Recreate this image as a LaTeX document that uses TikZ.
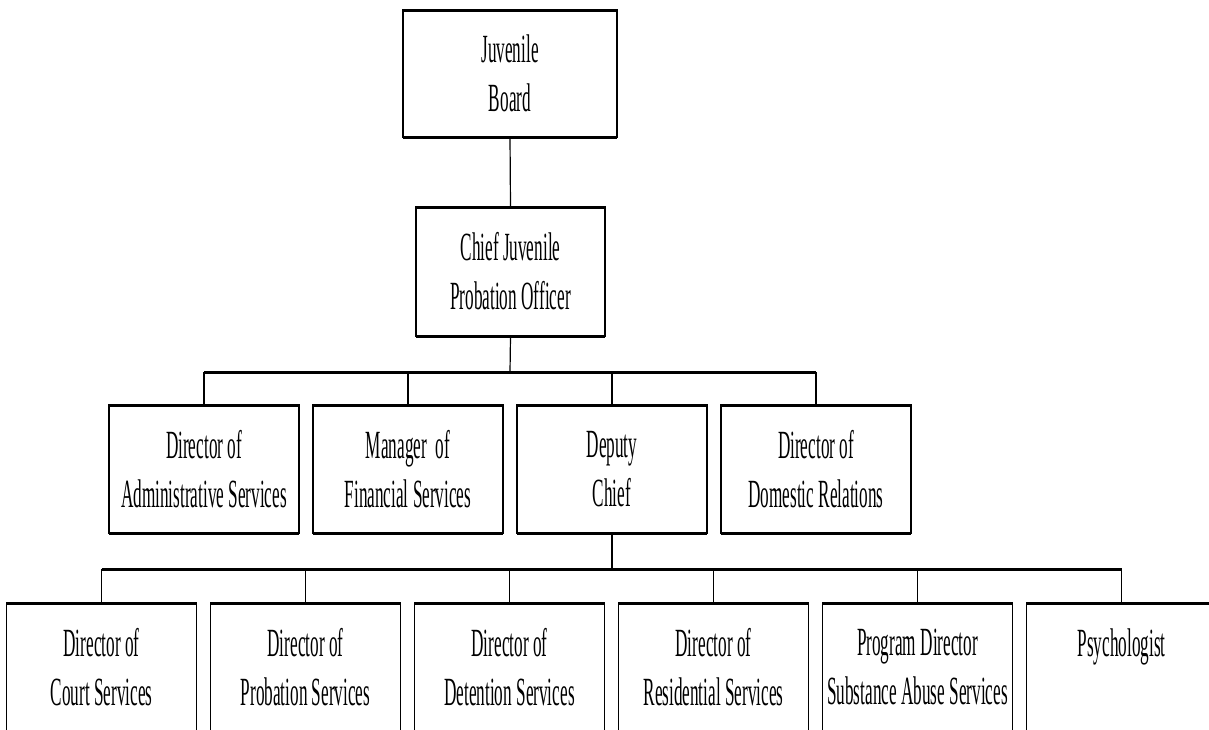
\documentclass[tikz,border=0pt]{standalone}
\usepackage{fontspec}
\newfontfamily\orgfont[FakeStretch=0.43]{Liberation Serif}
\usepackage{tikz}
\usetikzlibrary{calc}
\usetikzlibrary{positioning}

\tikzset{
  orgbox/.style={draw,line width=1.2pt,minimum width=190pt,minimum height=128pt,inner sep=0pt,outer sep=0pt,align=center,font=\orgfont\fontsize{40}{49}\selectfont},
  edge/.style={line width=3pt},
  bus/.style={line width=3pt},
  link/.style={line width=1.2pt}
}

\begin{document}
\begin{tikzpicture}[x=1pt,y=1pt]
      \useasboundingbox (0,0) rectangle (1209,-729);
      % top of the chart
      \node[orgbox,minimum width=214pt,minimum height=127pt] (board) at (510,-73.5) {Juvenile\\Board};
      \node[orgbox,minimum width=189pt,minimum height=129pt] (cjpo) at (510.5,-271.5) {Chief Juvenile\\Probation Officer};
      % second row
      \node[orgbox] (admin) at (204,-469) {Director of\\Administrative Services};
      \node[orgbox,right=14pt of admin] (finance) {Manager\ \ of\\Financial Services};
      \node[orgbox,right=14pt of finance] (deputy) {Deputy\\Chief};
      \node[orgbox,right=14pt of deputy] (domestic) {Director of\\Domestic Relations};
      % third row
      \node[orgbox] (court) at (101.5,-667) {Director of\\Court Services};
      \node[orgbox,right=14pt of court] (probation) {Director of\\Probation Services};
      \node[orgbox,right=14pt of probation] (detention) {Director of\\Detention Services};
      \node[orgbox,right=14pt of detention] (residential) {Director of\\Residential Services};
      \node[orgbox,right=14pt of residential] (substance) {Program Director\\Substance Abuse Services};
      \node[orgbox,right=14pt of substance] (psych) {Psychologist\\~};
      \foreach \n in {board,cjpo,admin,finance,deputy,domestic,court,probation,detention,residential,substance,psych}
        \draw[edge] (\n.north west) -- (\n.north east) (\n.south west) -- (\n.south east);
      % connectors
      \coordinate (bus1) at (510,-372);
      \coordinate (bus2) at (612,-569);
      \draw[link] (board.south) -- (cjpo.north);
      \draw[link] (cjpo.south) -- (bus1);
      \draw[bus] (admin.north |- bus1) -- (domestic.north |- bus1);
      \foreach \n in {admin,finance,deputy,domestic}
        \draw[link] (\n.north) -- (\n.north |- bus1);
      \draw[link] (deputy.south) -- (bus2);
      \draw[bus] (court.north |- bus2) -- (psych.north |- bus2);
      \foreach \n in {court,probation,detention,residential,substance,psych}
        \draw[link] (\n.north) -- (\n.north |- bus2);
\end{tikzpicture}
\end{document}
